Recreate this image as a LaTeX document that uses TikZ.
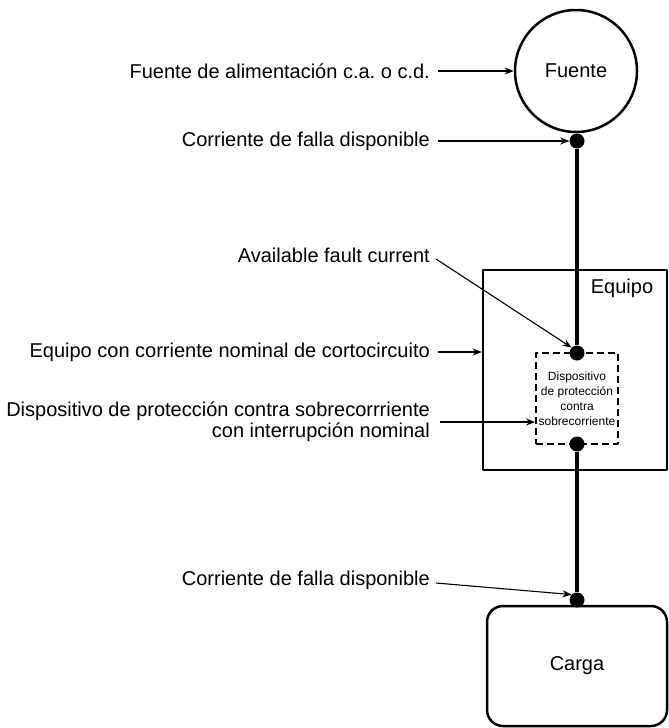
\documentclass[tikz,border=0pt]{standalone}
\usepackage{fontspec}
\setmainfont{Liberation Sans}
\usetikzlibrary{arrows.meta,positioning}
\frenchspacing
\begin{document}
\begin{tikzpicture}[x=1pt, y=-1pt, line join=round, >={Stealth[length=9pt,width=7pt]},
	font=\fontsize{20}{21}\selectfont,
	lbl/.style={anchor=east, inner sep=0pt},
	bus/.style={line width=4pt},
	dot/.style={circle, fill=black, inner sep=0pt, minimum size=15pt},
	ptr/.style={->, line width=1.1pt},
	frame/.style={draw, line width=2.5pt}]
	\useasboundingbox (0,0) rectangle (669,728);
	% blocks
	\node[frame, circle, minimum size=122pt] (fuente) at (576,71) {Fuente};
	\node[frame, minimum width=184pt, minimum height=200pt] (equipo) at (575,370) {};
	\node (equipo-lbl) at (622,288) {Equipo};
	\node[draw, line width=1.8pt, dash pattern=on 7pt off 4pt, minimum width=82pt, minimum height=91pt,
		inner sep=0pt, align=center, font=\fontsize{12}{15}\selectfont] (disp) at (577,398.5)
		{Dispositivo\\de protección\\contra\\sobrecorriente};
	\node[frame, rounded corners=16pt, minimum width=180pt, minimum height=120pt] (carga) at (577,666) {Carga};
	% dots and bus
	\node[dot] (d1) at (577,141) {};
	\node[dot] (d2) at (577,353) {};
	\node[dot] (d3) at (577,444) {};
	\node[dot] (d4) at (577,600) {};
	\draw[bus] (d1) -- (d2);
	\draw[bus] (d3) -- (d4);
	% labels
	\node[lbl] (l-fuente) at (430,71) {Fuente de alimentación c.a. o c.d.};
	\draw[ptr] ([xshift=8pt]l-fuente.east) -- (fuente.west);
	\node[lbl] (l-falla1) at (430,141) {Corriente de falla disponible};
	\draw[ptr] ([xshift=8pt]l-falla1.east) -- (d1.west);
	\node[lbl] (l-avail) at (430,255) {Available fault current};
	\draw[ptr] ([xshift=6pt,yshift=-4pt]l-avail.east) -- (d2.north west);
	\node[lbl] (l-equipo) at (430,352) {Equipo con corriente nominal de cortocircuito};
	\draw[ptr] ([xshift=8pt]l-equipo.east) -- (l-equipo.east -| equipo.west);
	\node[lbl, align=right] (l-disp) at (430,422) {Dispositivo de protección contra sobrecorrriente\\con interrupción nominal};
	\draw[ptr] ([xshift=10pt]l-disp.east) -- (l-disp.east -| disp.west);
	\node[lbl] (l-falla2) at (430,580) {Corriente de falla disponible};
	\draw[ptr] ([xshift=6pt,yshift=-3pt]l-falla2.east) -- (d4.north west);
\end{tikzpicture}
\end{document}
